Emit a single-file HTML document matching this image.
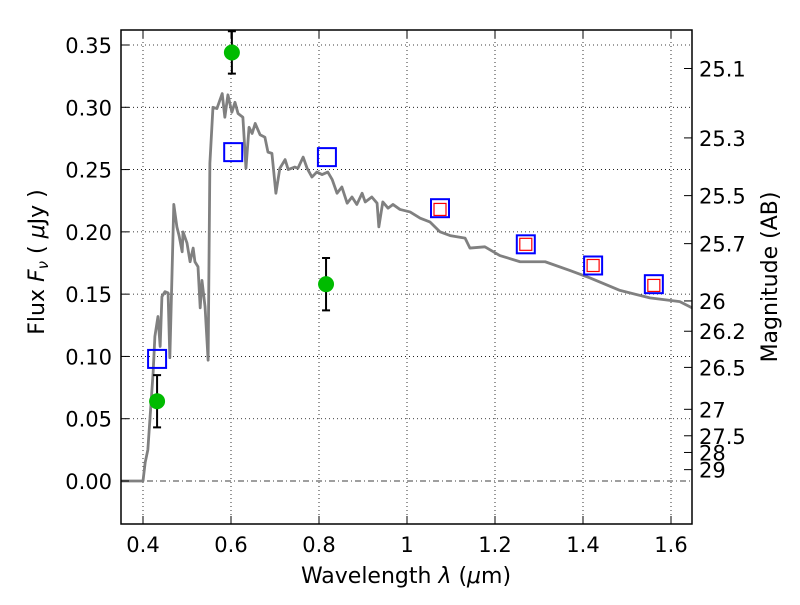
<!DOCTYPE html>
<html><head><meta charset="utf-8"><style>
body{margin:0;background:#fff}
svg text{font-family:"DejaVu Sans","Liberation Sans",sans-serif;fill:#000}
</style></head><body>
<svg id="chart" width="800" height="600">
<rect x="0" y="0" width="800" height="600" fill="#fff"/>
<g id="grid"></g>
<g id="plot"></g>
<rect x="121" y="30" width="571" height="494" fill="none" stroke="#000" stroke-width="1.5"/>
<g id="ticks"></g>
<text x="406" y="583" font-size="22" text-anchor="middle">Wavelength  <tspan font-style="italic">λ</tspan> (<tspan font-style="italic">μ</tspan>m)</text>
<text transform="translate(44,262) rotate(-90)" font-size="22" text-anchor="middle">Flux  <tspan font-style="italic">F</tspan><tspan font-style="italic" font-size="15" dy="4">ν</tspan><tspan dy="-4">  ( </tspan><tspan font-style="italic">μ</tspan>Jy )</text>
<text transform="translate(777,277) rotate(-90)" font-size="22" text-anchor="middle">Magnitude (AB)</text>
</svg>
<script>
const specLam=[0.35,0.40,0.405,0.411,0.423,0.427,0.434,0.439,0.443,0.45,0.457,0.461,0.466,0.470,0.477,0.482,0.489,0.491,0.50,0.507,0.514,0.518,0.525,0.530,0.534,0.541,0.548,0.552,0.559,0.568,0.580,0.586,0.593,0.602,0.609,0.616,0.627,0.634,0.641,0.648,0.655,0.666,0.677,0.684,0.693,0.702,0.711,0.723,0.730,0.745,0.752,0.764,0.773,0.784,0.795,0.807,0.820,0.830,0.841,0.852,0.864,0.875,0.886,0.898,0.905,0.920,0.932,0.936,0.945,0.957,0.968,0.984,1.007,1.030,1.052,1.075,1.098,1.132,1.143,1.177,1.211,1.257,1.314,1.370,1.416,1.484,1.552,1.620,1.648];
const specFlux=[0,0,0.015,0.025,0.087,0.116,0.132,0.108,0.148,0.152,0.151,0.099,0.167,0.222,0.204,0.197,0.184,0.200,0.191,0.176,0.187,0.176,0.172,0.139,0.161,0.140,0.097,0.255,0.300,0.299,0.311,0.292,0.310,0.296,0.304,0.295,0.292,0.251,0.284,0.279,0.287,0.278,0.276,0.264,0.263,0.231,0.251,0.258,0.250,0.252,0.251,0.260,0.251,0.244,0.248,0.246,0.248,0.242,0.231,0.236,0.223,0.228,0.222,0.231,0.224,0.228,0.223,0.204,0.224,0.219,0.222,0.218,0.216,0.211,0.208,0.200,0.197,0.195,0.187,0.188,0.181,0.176,0.176,0.169,0.163,0.153,0.147,0.144,0.139];
const obsLam=[0.432,0.602,0.816];
const obsFlux=[0.064,0.344,0.158];
const obsErr=[0.021,0.017,0.021];
const modLam=[0.432,0.605,0.818,1.075,1.27,1.423,1.561];
const modFlux=[0.098,0.264,0.260,0.219,0.190,0.173,0.158];
const redLam=[1.075,1.27,1.423,1.561];
const redFlux=[0.218,0.190,0.173,0.157];
const xTicks=[0.4,0.6,0.8,1,1.2,1.4,1.6];
const xTickLabels=["0.4","0.6","0.8","1","1.2","1.4","1.6"];
const yTicks=[0,0.05,0.1,0.15,0.2,0.25,0.3,0.35];
const yTickLabels=["0.00","0.05","0.10","0.15","0.20","0.25","0.30","0.35"];
const magTicks=[25.1,25.3,25.5,25.7,26,26.2,26.5,27,27.5,28,29];

const NS="http://www.w3.org/2000/svg";
const X=l=>143+(l-0.4)*440;
const Y=f=>481-f*1245.7;
const magY=m=>Y(Math.pow(10,(23.9-m)/2.5));
function mk(tag,attrs,parent){const e=document.createElementNS(NS,tag);for(const k in attrs)e.setAttribute(k,attrs[k]);parent.appendChild(e);return e;}
const grid=document.getElementById('grid'),plot=document.getElementById('plot'),ticks=document.getElementById('ticks');
xTicks.forEach((v,i)=>{
  const g=mk('line',{x1:X(v),x2:X(v),y1:30,y2:524,stroke:'#000','stroke-width':0.8,'stroke-dasharray':'1,3'},grid);
  
  
  const t1=mk('line',{x1:X(v),x2:X(v),y1:524,y2:516,stroke:'#000','stroke-width':1},ticks);
  
  
  const t2=mk('line',{x1:X(v),x2:X(v),y1:30,y2:38,stroke:'#000','stroke-width':1},ticks);
  
  
  const tx=mk('text',{x:X(v),y:552,'font-size':21,'text-anchor':'middle'},ticks);
  tx.textContent=xTickLabels[i];
  
  
});
yTicks.forEach((v,i)=>{
  const g=mk('line',{x1:121,x2:692,y1:Y(v),y2:Y(v),stroke:'#000','stroke-width':0.8,'stroke-dasharray':v===0?'6,3,1,3':'1,3'},grid);
  
  
  const t=mk('line',{x1:121,x2:129,y1:Y(v),y2:Y(v),stroke:'#000','stroke-width':1},ticks);
  
  
  const tx=mk('text',{x:112,y:Y(v)+8,'font-size':21,'text-anchor':'end'},ticks);
  tx.textContent=yTickLabels[i];
  
  
});
magTicks.forEach(m=>{
  const y=magY(m);
  const t=mk('line',{x1:684,x2:692,y1:y,y2:y,stroke:'#000','stroke-width':1},ticks);
  
  
  const tx=mk('text',{x:699,y:y+8,'font-size':21},ticks);
  tx.textContent=String(m);
  
  
});
const clip=mk('clipPath',{id:'cp'},plot);mk('rect',{x:121,y:30,width:571,height:494},clip);
const body=mk('g',{'clip-path':'url(#cp)'},plot);
const path=mk('polyline',{points:specLam.map((l,i)=>X(l)+','+Y(specFlux[i])).join(' '),fill:'none',stroke:'#808080','stroke-width':2.8,'stroke-linejoin':'round'},body);


modLam.forEach((l,i)=>{
  const r=mk('rect',{x:X(l)-9,y:Y(modFlux[i])-9,width:18,height:18,fill:'none',stroke:'#0000ff','stroke-width':2},body);
  
  
});
redLam.forEach((l,i)=>{
  const r=mk('rect',{x:X(l)-6,y:Y(redFlux[i])-6,width:12,height:12,fill:'none',stroke:'#ff0000','stroke-width':1.2},body);
  
  
});
obsLam.forEach((l,i)=>{
  const x=X(l),y1=Y(obsFlux[i]+obsErr[i]),y2=Y(obsFlux[i]-obsErr[i]);
  const e=mk('path',{d:`M${x},${y1}V${y2}M${x-4},${y1}H${x+4}M${x-4},${y2}H${x+4}`,stroke:'#000','stroke-width':2,fill:'none'},body);
  
  
  const c=mk('circle',{cx:x,cy:Y(obsFlux[i]),r:8,fill:'#00bb00'},body);
  
  
});
</script>
</body></html>
